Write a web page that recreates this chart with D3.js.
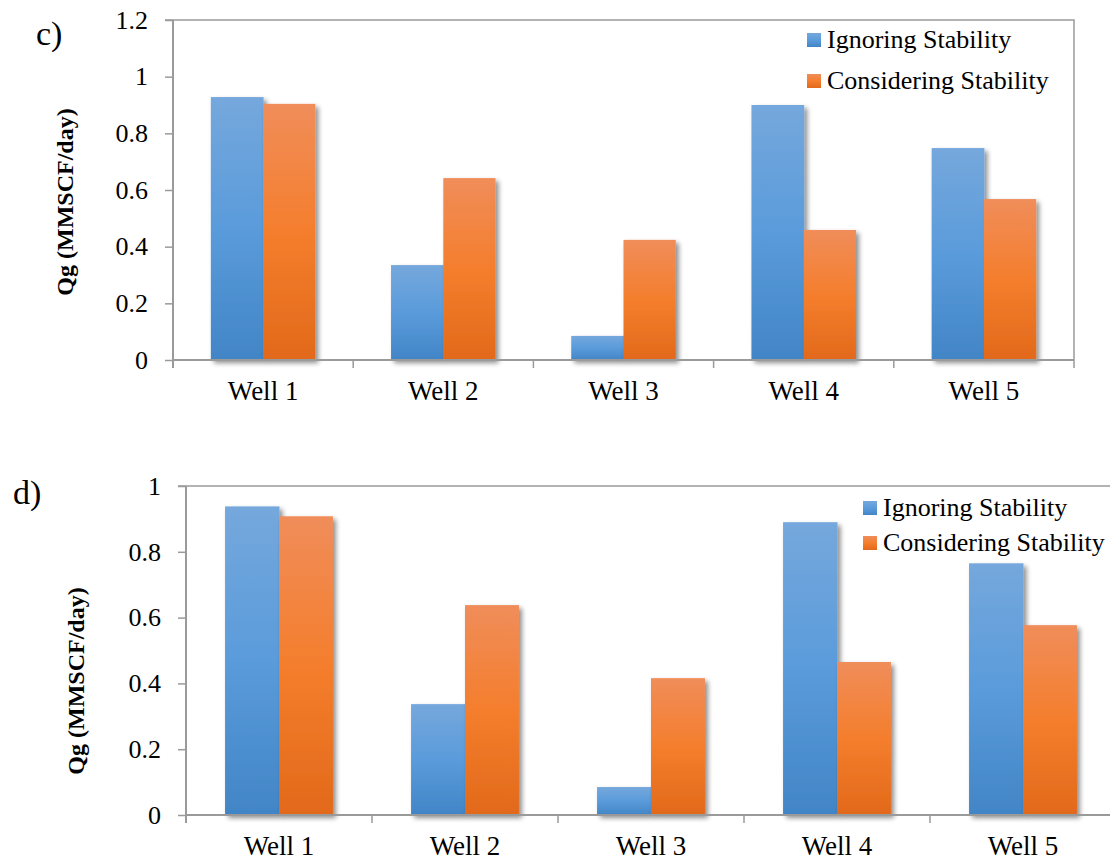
<!DOCTYPE html>
<html>
<head>
<meta charset="utf-8">
<script src="https://cdn.jsdelivr.net/npm/d3@7"></script>
<style>
  html, body { margin: 0; padding: 0; background: #ffffff; }
  svg { display: block; }
  text { font-family: "Liberation Serif", "Times New Roman", serif; fill: #000; }
</style>
</head>
<body>
<svg id="chart" width="1110" height="861"></svg>
<script>
// Gas rate per well, with and without the wellbore stability constraint
const wells = ["Well 1", "Well 2", "Well 3", "Well 4", "Well 5"];
const seriesNames = ["Ignoring Stability", "Considering Stability"];

// panel c)
const ignoringC    = [0.928, 0.335, 0.085, 0.900, 0.748];
const consideringC = [0.904, 0.642, 0.424, 0.459, 0.568];
const yTicksC = [0, 0.2, 0.4, 0.6, 0.8, 1, 1.2];

// panel d)
const ignoringD    = [0.938, 0.337, 0.085, 0.890, 0.765];
const consideringD = [0.908, 0.638, 0.416, 0.465, 0.577];
const yTicksD = [0, 0.2, 0.4, 0.6, 0.8, 1];

const yTitle = "Qg (MMSCF/day)";

const svg = d3.select("#chart");
const defs = svg.append("defs");

// vertical gradients for the two series
function addGradient(id, stops) {
  const g = defs.append("linearGradient")
    .attr("id", id).attr("x1", 0).attr("y1", 0).attr("x2", 0).attr("y2", 1);
  stops.forEach(([o, c]) => g.append("stop").attr("offset", o).attr("stop-color", c));
}
addGradient("gradBlue",   [[0, "#75a8dc"], [0.5, "#5a9bdb"], [1, "#4285c6"]]);
addGradient("gradOrange", [[0, "#f08d5a"], [0.5, "#f47e2d"], [1, "#e2691a"]]);
const fills = ["url(#gradBlue)", "url(#gradOrange)"];
const swatch = ["gradBlue", "gradOrange"];

// soft drop shadow under the bars
const shadow = defs.append("filter").attr("id", "barShadow")
  .attr("x", "-20%").attr("y", "-10%").attr("width", "150%").attr("height", "130%");
shadow.append("feGaussianBlur").attr("in", "SourceAlpha").attr("stdDeviation", 2.5).attr("result", "blur");
shadow.append("feOffset").attr("in", "blur").attr("dx", 2.5).attr("dy", 2.5).attr("result", "off");
shadow.append("feComponentTransfer").attr("in", "off").attr("result", "shade")
  .append("feFuncA").attr("type", "linear").attr("slope", 0.45);
const merge = shadow.append("feMerge");
merge.append("feMergeNode").attr("in", "shade");
merge.append("feMergeNode").attr("in", "SourceGraphic");

const axisColor = "#9a9a9a";
const serif = "'Liberation Serif', 'Times New Roman', serif";

function drawPanel(opt) {
  const g = svg.append("g");
  const x = d3.scaleBand().domain(wells).range([opt.left, opt.right])
    .paddingInner(0.42).paddingOuter(0.21);
  const xs = d3.scaleBand().domain([0, 1]).range([0, x.bandwidth()]);
  const y = d3.scaleLinear().domain([0, opt.yMax]).range([opt.bottom, opt.top]);

  // plot-area frame (top and right edges)
  g.append("path")
    .attr("d", `M${opt.left - 8},${opt.top}H${opt.right}V${opt.bottom + 8}`)
    .attr("fill", "none").attr("stroke", axisColor).attr("stroke-width", 1.5);

  // bars
  const series = [opt.ignoring, opt.considering];
  series.forEach((vals, si) => {
    g.append("g").attr("filter", "url(#barShadow)")
      .selectAll("rect").data(vals).join("rect")
      .attr("x", (d, i) => x(wells[i]) + xs(si))
      .attr("width", xs.bandwidth() + (si === 0 ? 0.5 : 0))
      .attr("y", d => y(d))
      .attr("height", d => y(0) - y(d))
      .attr("fill", fills[si]);
  });

  // y axis
  const yAxis = g.append("g").attr("transform", `translate(${opt.left},0)`)
    .call(d3.axisLeft(y).tickValues(opt.ticks).tickSize(8).tickPadding(17)
      .tickFormat(d => String(d)));
  yAxis.select(".domain").remove();
  yAxis.selectAll(".tick line").attr("stroke", axisColor).attr("stroke-width", 1.5);
  yAxis.selectAll(".tick text").style("font-family", serif)
    .style("font-size", "26px").attr("fill", "#000");
  g.append("line").attr("x1", opt.left).attr("x2", opt.left)
    .attr("y1", opt.top).attr("y2", opt.bottom + 8)
    .attr("stroke", axisColor).attr("stroke-width", 2);

  // x axis: baseline, category boundary ticks, labels
  g.append("line").attr("x1", opt.left).attr("x2", opt.right)
    .attr("y1", y(0)).attr("y2", y(0))
    .attr("stroke", axisColor).attr("stroke-width", 2);
  const bounds = wells.map(w => x(w) - x.step() * 0.21).slice(1);
  g.selectAll(".xb").data(bounds).join("line")
    .attr("x1", d => d).attr("x2", d => d)
    .attr("y1", y(0)).attr("y2", y(0) + 8)
    .attr("stroke", axisColor).attr("stroke-width", 1.5);
  const xAxis = g.append("g").attr("transform", `translate(0,${y(0)})`)
    .call(d3.axisBottom(x).tickSize(0).tickPadding(opt.xLabelPad));
  xAxis.select(".domain").remove();
  xAxis.selectAll(".tick text").style("font-family", serif)
    .style("font-size", "27px").attr("fill", "#000");

  // axis title
  g.append("text")
    .attr("transform", `translate(${opt.titleX},${opt.titleY}) rotate(-90)`)
    .attr("text-anchor", "middle")
    .style("font-size", "24px").style("font-weight", "bold")
    .text(yTitle);

  // panel letter
  g.append("text").attr("x", opt.letterX).attr("y", opt.letterY)
    .style("font-size", "34px").text(opt.letter);

  // legend
  const lg = g.append("g").attr("transform", `translate(${opt.legendX},${opt.legendY})`);
  seriesNames.forEach((name, i) => {
    const row = lg.append("g").attr("transform", `translate(0,${i * opt.legendGap})`);
    row.append("rect").attr("x", 0).attr("y", -14).attr("width", 14).attr("height", 14)
      .attr("fill", `url(#${swatch[i]})`);
    row.append("text").attr("x", 20).attr("y", 0).attr("dy", "0.05em")
      .style("font-size", "26px").text(name);
  });
}

drawPanel({
  letter: "c)", letterX: 36, letterY: 45,
  left: 173, right: 1074, top: 20, bottom: 360, yMax: 1.2,
  ticks: yTicksC, ignoring: ignoringC, considering: consideringC,
  titleX: 73, titleY: 202, xLabelPad: 21,
  legendX: 807, legendY: 47, legendGap: 41
});

drawPanel({
  letter: "d)", letterX: 13, letterY: 504,
  left: 186, right: 1116, top: 486, bottom: 815, yMax: 1,
  ticks: yTicksD, ignoring: ignoringD, considering: consideringD,
  titleX: 84, titleY: 681, xLabelPad: 21,
  legendX: 863, legendY: 515, legendGap: 35
});
</script>
</body>
</html>
